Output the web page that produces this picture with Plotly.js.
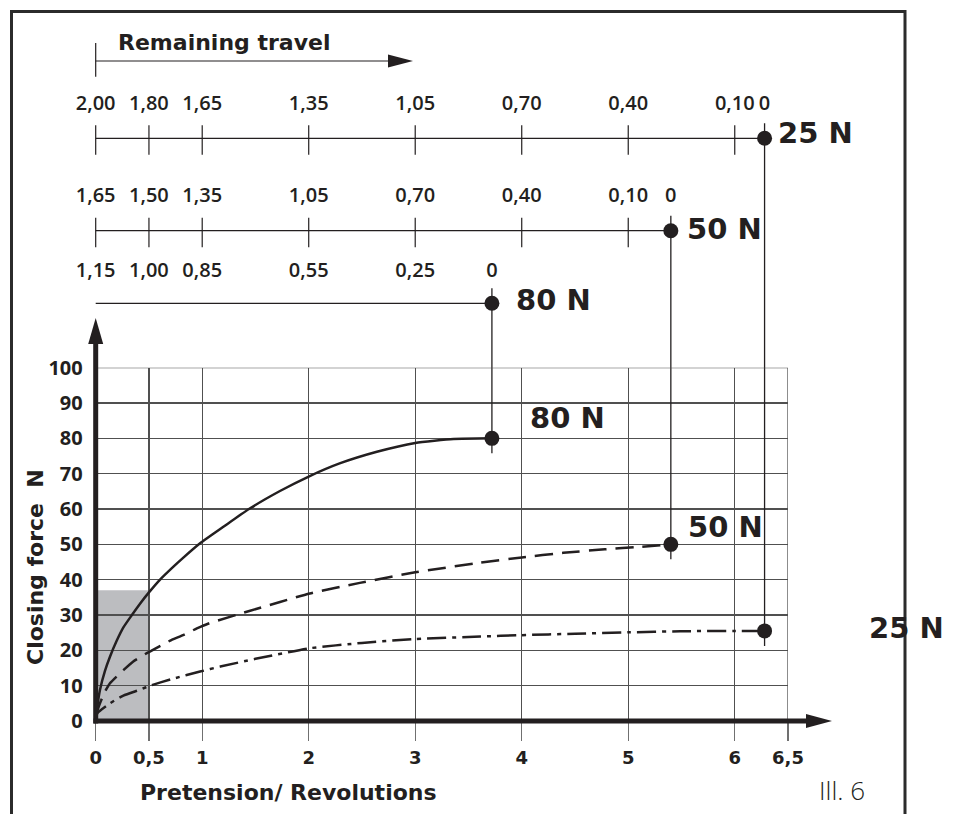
<!DOCTYPE html>
<html><head><meta charset="utf-8">
<script src="https://cdn.plot.ly/plotly-3.0.1.min.js"></script>
<style>html,body{margin:0;padding:0;background:#fff}#chart{width:958px;height:814px}</style>
</head><body><div id="chart"></div>
<script>
// ---------------- data ----------------
const xTickVals = [0, 0.5, 1, 2, 3, 4, 5, 6, 6.5];
const xTickText = ['0', '0,5', '1', '2', '3', '4', '5', '6', '6,5'];
const yTickVals = [0, 10, 20, 30, 40, 50, 60, 70, 80, 90, 100];

const forceNames = ['80 N', '50 N', '25 N'];
const endPretension = [3.72, 5.4, 6.28];
const endForce = [80, 50, 25.5];

const curve80X = [0, 0.015, 0.04, 0.087, 0.134, 0.197, 0.26, 0.34, 0.416, 0.5, 0.6, 0.73, 0.81, 0.98, 1.21, 1.45, 1.73, 2.0, 2.29, 2.64, 3.0, 3.36, 3.72];
const curve80Y = [0, 4.0, 8.8, 14.2, 18.2, 22.7, 26.5, 30, 33.2, 36.4, 39.9, 43.7, 45.9, 50.3, 55.2, 60.2, 65.1, 69.2, 72.9, 76.2, 78.7, 79.8, 80];
const curve50X = [0, 0.04, 0.087, 0.134, 0.26, 0.35, 0.48, 0.59, 0.71, 0.82, 0.95, 1.06, 1.45, 2.01, 2.48, 3.0, 3.61, 4.0, 4.39, 4.78, 5.11, 5.4];
const curve50Y = [1.5, 5, 8.3, 10.7, 14.4, 16.8, 19.2, 21, 22.9, 24.3, 26.2, 27.6, 31.2, 36.1, 39.1, 42.1, 44.8, 46.3, 47.6, 48.6, 49.3, 50];
const curve25X = [0, 0.015, 0.134, 0.26, 0.42, 0.5, 0.73, 0.98, 1.17, 1.5, 2.01, 2.5, 3.0, 3.61, 4.0, 4.5, 5.0, 5.49, 6.0, 6.28];
const curve25Y = [0, 2.2, 5.0, 7.2, 8.9, 9.9, 12.0, 14.0, 15.4, 17.6, 20.6, 22.1, 23.2, 23.9, 24.3, 24.7, 25.1, 25.4, 25.5, 25.5];

// remaining travel scales (labels from left to right, last one at the end point)
const travel80 = ['1,15', '1,00', '0,85', '0,55', '0,25', '0'];
const travel50 = ['1,65', '1,50', '1,35', '1,05', '0,70', '0,40', '0,10', '0'];
const travel25 = ['2,00', '1,80', '1,65', '1,35', '1,05', '0,70', '0,40', '0,10', '0'];

const shadeX = [0, 0.5];
const shadeY = [0, 37];

// ---------------- geometry / style ----------------
const W = 958, H = 814;
const X0PX = 95.7, XEPX = 788, Y0PX = 721, YTPX = 367.7;
const XMAX = 6.5, YMAX = 100;
const kx = (XEPX - X0PX) / XMAX, ky = (Y0PX - YTPX) / YMAX;
const ux = px => (px - X0PX) / kx;        // pixel -> pretension units
const uy = py => (Y0PX - py) / ky;        // pixel -> force units
const INK = '#231f20', GRID = '#505050';
const BOLD = {family: 'DejaVu Sans', weight: 'bold', color: INK};

const scalePx = [303.3, 230.7, 138.3];         // vertical pixel rows of the three travel scales
const labelOff = [31, 34, 33];
const showScaleTicks = [false, true, true];
const travelLabels = [travel80, travel50, travel25];

const traces = [];
// curves
const curveDefs = [[curve80X, curve80Y, 'solid'], [curve50X, curve50Y, '18px,9px'], [curve25X, curve25Y, '19px,6px,4px,6px']];
curveDefs.forEach(([xs, ys, dash]) => traces.push({
  x: xs, y: ys, xaxis: 'x', yaxis: 'y', mode: 'lines', hoverinfo: 'skip',
  line: {color: INK, width: 2.5, dash: dash, shape: 'spline', smoothing: 0.5}
}));

// travel scales, connectors and dots in the overlay
for (let i = 0; i < 3; i++) {
  const sy = uy(scalePx[i]);
  const ex = endPretension[i];
  const labs = travelLabels[i];
  const pos = xTickVals.slice(0, labs.length - 1).concat([ex]);
  traces.push({x: [0, ex], y: [sy, sy], xaxis: 'x2', yaxis: 'y2', mode: 'lines', hoverinfo: 'skip',
    line: {color: INK, width: 1.2}});
  if (showScaleTicks[i]) {
    const tx = [], ty = [];
    pos.slice(0, -1).forEach(p => { tx.push(p, p, null); ty.push(uy(scalePx[i] - 13), uy(scalePx[i] + 16.5), null); });
    traces.push({x: tx, y: ty, xaxis: 'x2', yaxis: 'y2', mode: 'lines', hoverinfo: 'skip',
      line: {color: INK, width: 1.2}});
  }
  traces.push({x: [ex, ex], y: [uy(scalePx[i] - 15), endForce[i] - 15 / ky], xaxis: 'x2', yaxis: 'y2',
    mode: 'lines', hoverinfo: 'skip', line: {color: INK, width: 1.3}});
  traces.push({x: pos, y: pos.map(() => uy(scalePx[i] - labelOff[i])), text: labs, xaxis: 'x2', yaxis: 'y2',
    mode: 'text', textposition: 'middle center', hoverinfo: 'skip',
    textfont: {family: 'Open Sans', weight: 600, size: 20, color: INK}});
  traces.push({x: [ex, ex], y: [sy, endForce[i]], xaxis: 'x2', yaxis: 'y2', mode: 'markers', hoverinfo: 'skip',
    marker: {color: INK, size: 15, line: {width: 0}}});
}

// ---------------- shapes ----------------
const shapes = [
  {type: 'rect', xref: 'x', yref: 'y', x0: shadeX[0], x1: shadeX[1], y0: shadeY[0], y1: shadeY[1],
    fillcolor: '#bcbdc0', line: {width: 0}, layer: 'below'},
  {type: 'rect', xref: 'x', yref: 'y', x0: 0, x1: XMAX, y0: 0, y1: YMAX,
    line: {color: GRID, width: 1.3}, layer: 'above'},
  {type: 'rect', xref: 'paper', yref: 'paper', x0: 11.5 / W, x1: 905 / W, y0: -0.02, y1: (H - 11.5) / H,
    line: {color: '#2b2b2b', width: 3}},
  {type: 'line', xref: 'x2', yref: 'y2', x0: 0, x1: 0, y0: uy(723.5), y1: uy(340), line: {color: INK, width: 5}},
  {type: 'path', xref: 'x2', yref: 'y2', fillcolor: INK, line: {width: 0},
    path: `M ${ux(X0PX - 7.5)},${uy(344)} L ${ux(X0PX + 7.5)},${uy(344)} L 0,${uy(318)} Z`},
  {type: 'line', xref: 'x2', yref: 'y2', x0: ux(93.5), x1: ux(810), y0: 0, y1: 0, line: {color: INK, width: 5}},
  {type: 'path', xref: 'x2', yref: 'y2', fillcolor: INK, line: {width: 0},
    path: `M ${ux(806)},${uy(Y0PX - 7)} L ${ux(806)},${uy(Y0PX + 7)} L ${ux(832)},0 Z`},
  {type: 'line', xref: 'x2', yref: 'y2', x0: 0, x1: 0, y0: uy(43), y1: uy(76.7), line: {color: INK, width: 1.2}},
  {type: 'line', xref: 'x2', yref: 'y2', x0: 0, x1: ux(392), y0: uy(61), y1: uy(61), line: {color: INK, width: 1.2}},
  {type: 'path', xref: 'x2', yref: 'y2', fillcolor: INK, line: {width: 0},
    path: `M ${ux(388)},${uy(54.5)} L ${ux(388)},${uy(67.5)} L ${ux(413)},${uy(61)} Z`}
];

// ---------------- annotations ----------------
const topOff = [[22, -3.3], [14, -2.2], [11, -5]];
const lowOff = [[36, -20.7], [15, -17.5], [102.6, -2.7]];
const annotations = [];
for (let i = 0; i < 3; i++) {
  annotations.push({xref: 'x2', yref: 'y2', x: endPretension[i], y: uy(scalePx[i]), xanchor: 'left', yanchor: 'middle',
    xshift: topOff[i][0], yshift: -topOff[i][1], text: forceNames[i], showarrow: false, font: Object.assign({size: 29}, BOLD)});
  annotations.push({xref: 'x2', yref: 'y2', x: endPretension[i], y: endForce[i], xanchor: 'left', yanchor: 'middle',
    xshift: lowOff[i][0], yshift: -lowOff[i][1], text: forceNames[i], showarrow: false, font: Object.assign({size: 29}, BOLD)});
}
annotations.push({xref: 'x2', yref: 'y2', x: ux(116), y: uy(42), xanchor: 'left', yanchor: 'middle',
  text: 'Remaining travel', showarrow: false, font: Object.assign({size: 22}, BOLD)});
annotations.push({xref: 'paper', yref: 'paper', x: 841.7 / W, y: (H - 790) / H, xanchor: 'center', yanchor: 'middle',
  text: 'Ill. 6', showarrow: false, font: {family: 'Open Sans', weight: 300, size: 26, color: INK}});
// axis titles
annotations.push({xref: 'paper', yref: 'paper', x: 288 / W, y: (H - 792) / H, xanchor: 'center', yanchor: 'middle',
  text: 'Pretension/ Revolutions', showarrow: false, font: Object.assign({size: 22}, BOLD)});
annotations.push({xref: 'paper', yref: 'paper', x: 35 / W, y: (H - 567) / H, xanchor: 'center', yanchor: 'middle',
  textangle: -90, text: 'Closing force\u00a0 N', showarrow: false, font: Object.assign({size: 22}, BOLD)});

const layout = {
  width: W, height: H, margin: {l: 0, r: 0, t: 0, b: 0},
  paper_bgcolor: '#ffffff', plot_bgcolor: 'rgba(0,0,0,0)', showlegend: false,
  xaxis: {domain: [X0PX / W, XEPX / W], range: [0, XMAX], anchor: 'y',
    tickmode: 'array', tickvals: xTickVals, ticktext: xTickText,
    ticks: 'outside', ticklen: 19, tickwidth: 1.3, tickcolor: '#707070', ticklabelstandoff: 1,
    showgrid: true, gridcolor: GRID, gridwidth: 1.3, zeroline: false, showline: false,
    tickfont: Object.assign({size: 18}, BOLD)},
  yaxis: {domain: [(H - Y0PX) / H, (H - YTPX) / H], range: [0, YMAX], anchor: 'x',
    tickmode: 'array', tickvals: yTickVals, ticks: '', ticklabelstandoff: 12,
    showgrid: true, gridcolor: GRID, gridwidth: 1.3, zeroline: false, showline: false,
    tickfont: {family: 'Open Sans', weight: 700, size: 20, color: INK}},
  xaxis2: {domain: [0, 1], range: [ux(0), ux(W)], anchor: 'y2', visible: false, fixedrange: true},
  yaxis2: {domain: [0, 1], range: [uy(H), uy(0)], anchor: 'x2', visible: false, fixedrange: true},
  shapes: shapes, annotations: annotations
};

Plotly.newPlot('chart', traces, layout, {staticPlot: true});
</script>
</body></html>
